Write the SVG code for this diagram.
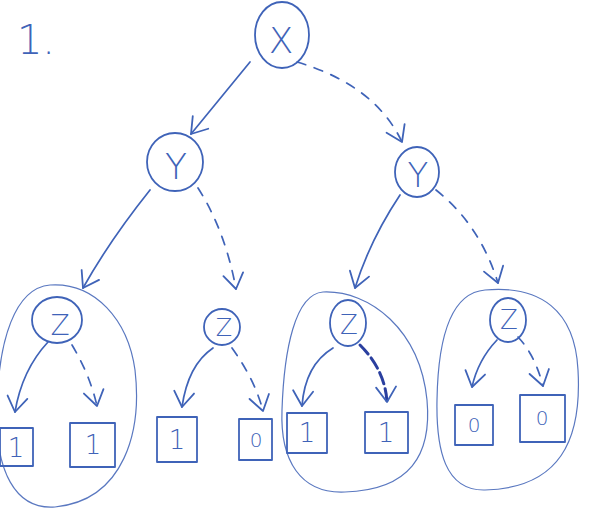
<svg xmlns="http://www.w3.org/2000/svg" width="589" height="518" viewBox="0 0 589 518">
  <defs>
    <style>
      .ink { fill: none; stroke: #3f63b8; stroke-width: 1.8; stroke-linecap: round; stroke-linejoin: round; }
      .thin { fill: none; stroke: #5a78c0; stroke-width: 1.2; }
      .solid { fill: none; stroke: #3f63b8; stroke-width: 1.7; stroke-linecap: round; }
      .dashed { fill: none; stroke: #3f63b8; stroke-width: 1.7; stroke-linecap: round; stroke-dasharray: 9 9; }
      .bold { fill: none; stroke: #2a3f9f; stroke-width: 3; stroke-linecap: round; stroke-dasharray: 12 5; }
      .lbl { font-family: "DejaVu Sans", "Liberation Sans", Arial, sans-serif; font-weight: 200; fill: #3f63b8; text-anchor: middle; dominant-baseline: central; }
    </style>
    <marker id="vee" markerUnits="userSpaceOnUse" markerWidth="30" markerHeight="30" viewBox="-20 -15 30 30" refX="0" refY="0" orient="auto">
      <path d="M-15,-10 L0,0 L-15,10" fill="none" stroke="#3f63b8" stroke-width="1.8" stroke-linecap="round" stroke-linejoin="round"/>
    </marker>
  </defs>
  <rect width="589" height="518" fill="#ffffff"/>

  <text class="lbl" x="36" y="40" font-size="40">1.</text>

  <!-- enclosing outlines around shared sub-graphs -->
  <g id="groups">
    <path class="thin" d="M50,285 C95,282 128,320 135,370 C142,430 125,500 55,507 C15,510 -5,470 -3,410 C-2,340 15,288 50,285 Z"/>
    <path class="thin" d="M323,292 C370,290 420,330 427,400 C432,455 410,490 345,492 C300,494 280,460 282,410 C284,350 295,294 323,292 Z"/>
    <path class="thin" d="M485,290 C540,285 575,310 578,370 C582,440 560,488 485,490 C445,491 436,450 437,400 C438,340 450,293 485,290 Z"/>
  </g>

  <g id="connectors">
    <path class="solid" d="M250,62 L191,134" marker-end="url(#vee)"/>
    <path class="dashed" d="M297,62 Q375,85 402,142" marker-end="url(#vee)"/>
    <path class="solid" d="M150,190 Q110,240 83,288" marker-end="url(#vee)"/>
    <path class="dashed" d="M198,188 Q225,230 236,289" marker-end="url(#vee)"/>
    <path class="solid" d="M400,195 Q370,240 355,288" marker-end="url(#vee)"/>
    <path class="dashed" d="M436,190 Q480,225 498,283" marker-end="url(#vee)"/>
    <path class="solid" d="M48,342 Q22,370 15,412" marker-end="url(#vee)"/>
    <path class="dashed" d="M72,345 Q90,375 97,406" marker-end="url(#vee)"/>
    <path class="solid" d="M213,348 Q188,365 182,407" marker-end="url(#vee)"/>
    <path class="dashed" d="M232,348 Q255,380 263,411" marker-end="url(#vee)"/>
    <path class="solid" d="M333,348 Q305,365 302,406" marker-end="url(#vee)"/>
    <path class="bold" d="M360,345 Q385,370 387,402" marker-end="url(#vee)"/>
    <path class="solid" d="M497,340 Q478,360 472,387" marker-end="url(#vee)"/>
    <path class="dashed" d="M518,337 Q535,355 543,386" marker-end="url(#vee)"/>
  </g>

  <g id="node-x"><ellipse class="ink" cx="282" cy="35" rx="27" ry="33"/><text class="lbl" x="281" y="40" font-size="36">X</text></g>
  <g id="node-y1"><ellipse class="ink" cx="175" cy="162" rx="28" ry="29"/><text class="lbl" x="176" y="166" font-size="36">Y</text></g>
  <g id="node-y2"><ellipse class="ink" cx="417" cy="172" rx="22" ry="25"/><text class="lbl" x="418" y="175" font-size="34">Y</text></g>
  <g id="node-z1"><ellipse class="ink" cx="57" cy="320" rx="25" ry="23"/><text class="lbl" x="60" y="325" font-size="28">Z</text></g>
  <g id="node-z2"><ellipse class="ink" cx="222" cy="327" rx="18" ry="18"/><text class="lbl" x="224" y="328" font-size="24">Z</text></g>
  <g id="node-z3"><ellipse class="ink" cx="348" cy="323" rx="18" ry="23"/><text class="lbl" x="349" y="325" font-size="26">Z</text></g>
  <g id="node-z4"><ellipse class="ink" cx="508" cy="320" rx="18" ry="22"/><text class="lbl" x="509" y="320" font-size="26">Z</text></g>

  <g id="leaf-1a"><rect class="ink" x="0" y="428" width="33" height="38"/><text class="lbl" x="16" y="448" font-size="26">1</text></g>
  <g id="leaf-1b"><rect class="ink" x="70" y="423" width="45" height="44"/><text class="lbl" x="93" y="445" font-size="26">1</text></g>
  <g id="leaf-1c"><rect class="ink" x="157" y="417" width="40" height="45"/><text class="lbl" x="177" y="440" font-size="26">1</text></g>
  <g id="leaf-0a"><rect class="ink" x="239" y="419" width="33" height="41"/><text class="lbl" x="256" y="440" font-size="20">0</text></g>
  <g id="leaf-1d"><rect class="ink" x="287" y="413" width="40" height="40"/><text class="lbl" x="307" y="433" font-size="26">1</text></g>
  <g id="leaf-1e"><rect class="ink" x="365" y="412" width="43" height="41"/><text class="lbl" x="386" y="433" font-size="26">1</text></g>
  <g id="leaf-0b"><rect class="ink" x="455" y="405" width="38" height="40"/><text class="lbl" x="474" y="425" font-size="20">0</text></g>
  <g id="leaf-0c"><rect class="ink" x="520" y="395" width="45" height="47"/><text class="lbl" x="542" y="418" font-size="20">0</text></g>
</svg>
